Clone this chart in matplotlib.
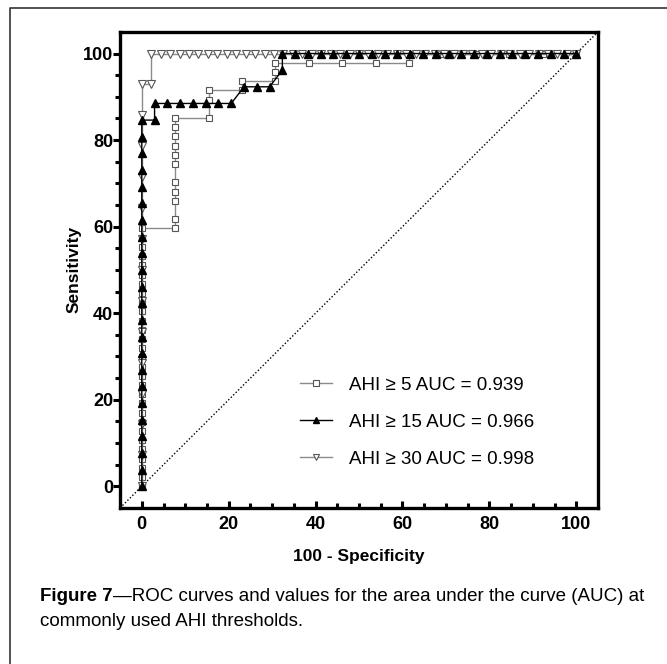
import matplotlib
matplotlib.use('Agg')
import matplotlib.pyplot as plt
from matplotlib import font_manager
from matplotlib.lines import Line2D

# ROC points as counts (false positives, true positives) per threshold
n5_pos, n5_neg = 47, 13
fp5 = [0] * 29 + [1] * 11 + [2, 2, 2, 3, 3, 4, 4, 4, 5, 6, 7, 8, 8, 9, 10, 11, 12, 13]
tp5 = [0, 1, 2, 3, 4, 5, 6, 7, 8, 9, 10, 11, 12, 13, 14, 15, 16, 17, 18, 19, 20,
       21, 22, 23, 24, 25, 26, 27, 28,
       28, 29, 31, 32, 33, 35, 36, 37, 38, 39, 40,
       40, 42, 43, 43, 44, 44, 45, 46, 46, 46, 46, 46, 47, 47, 47, 47, 47, 47]

n15_pos, n15_neg = 26, 34
fp15 = [0] * 23 + [1, 1, 2, 3, 4, 5, 6, 7, 8, 9, 10, 11, 11,
                   12, 13, 14, 15, 16, 17, 18, 19, 20, 21, 22, 23, 24, 25, 26, 27,
                   28, 29, 30, 31, 32, 33, 34]
tp15 = [0, 1, 2, 3, 4, 5, 6, 7, 8, 9, 10, 11, 12, 13, 14, 15, 16, 17, 18, 19, 20,
        21, 22, 22, 23, 23, 23, 23, 23, 23, 23, 24, 24, 24, 25, 26] + [26] * 23

n30_pos, n30_neg = 14, 46
fp30 = [0] * 14 + [1, 1] + [2, 3, 4, 5, 6, 7, 8, 9, 10, 11, 12, 13, 14, 15, 16, 17,
                            18, 19, 20, 21, 22, 23, 24, 25, 26, 27, 28, 29, 30, 31,
                            32, 33, 34, 35, 36, 37, 38, 39, 40, 41, 42, 43, 44, 45, 46]
tp30 = [0, 1, 2, 3, 4, 5, 6, 7, 8, 9, 10, 11, 12, 13, 13] + [14] * 46

labels = ['AHI \u2265 5 AUC = 0.939', 'AHI \u2265 15 AUC = 0.966', 'AHI \u2265 30 AUC = 0.998']

names = {f.name for f in font_manager.fontManager.ttflist}
narrow = 'Liberation Sans Narrow' if 'Liberation Sans Narrow' in names else 'Liberation Sans'
plt.rcParams['font.family'] = ['Liberation Sans', 'DejaVu Sans']

fig = plt.figure(figsize=(6.67, 6.64), dpi=100)
ax = fig.add_axes([0.18, 0.235, 0.7166, 0.717])


def pct(vals, n):
    return [100.0 * v / n for v in vals]


ax.plot(pct(fp5, n5_neg), pct(tp5, n5_pos), color='#8a8a8a', lw=1.0, marker='s', ms=5,
        mfc='white', mec='#555555', mew=0.8, label=labels[0], zorder=3)
ax.plot(pct(fp15, n15_neg), pct(tp15, n15_pos), color='black', lw=1.0, marker='^', ms=5.5,
        mfc='black', mec='black', label=labels[1], zorder=4)
ax.plot(pct(fp30, n30_neg), pct(tp30, n30_pos), color='#8a8a8a', lw=1.0, marker='v', ms=5.5,
        mfc='white', mec='#555555', mew=0.8, label=labels[2], zorder=3)
ax.axline((0, 0), slope=1, color='black', lw=1.0, ls=(0, (1, 1.5)), zorder=2)

ax.set_xlim(-5, 105)
ax.set_ylim(-5, 105)
ax.set_xticks(range(0, 101, 20))
ax.set_yticks(range(0, 101, 20))
ax.set_xticks(range(0, 101, 5), minor=True)
ax.set_yticks(range(0, 101, 5), minor=True)
for s in ax.spines.values():
    s.set_linewidth(2.4)
ax.tick_params(axis='x', which='both', direction='in', width=2.2, pad=6)
ax.tick_params(axis='y', which='both', direction='out', width=2.2, pad=0)
ax.tick_params(which='major', length=5)
ax.tick_params(which='minor', length=3.5)
for t in ax.get_xticklabels() + ax.get_yticklabels():
    t.set_fontweight('bold')
    t.set_fontsize(13)

ax.set_xlabel('100 - Specificity', fontsize=12.5, fontweight='bold', labelpad=11)
ax.set_ylabel('Sensitivity', fontsize=12.5, fontweight='bold', labelpad=1)

ax.legend(loc='center left', bbox_to_anchor=(0.361, 0.18), borderaxespad=0, frameon=False,
          fontsize=13.5, handlelength=1.7, handletextpad=0.9, labelspacing=1.05,
          markerscale=0.75)

# figure frame
fig.add_artist(Line2D([0.015, 0.015, 1.0], [0.0, 0.988, 0.988], color='#333333', lw=1.2))

cap_y = 1 - 601 / 664
t1 = fig.text(40 / 667, cap_y, 'Figure 7', fontsize=13.5, fontweight='bold', family=narrow)
fig.canvas.draw()
bb = t1.get_window_extent()
fig.text(bb.x1 / fig.bbox.width, cap_y,
         '\u2014ROC curves and values for the area under the curve (AUC) at',
         fontsize=13.5, family=narrow)
fig.text(40 / 667, 1 - 626 / 664, 'commonly used AHI thresholds.', fontsize=13.5, family=narrow)

fig.savefig('out.png', dpi=100)
